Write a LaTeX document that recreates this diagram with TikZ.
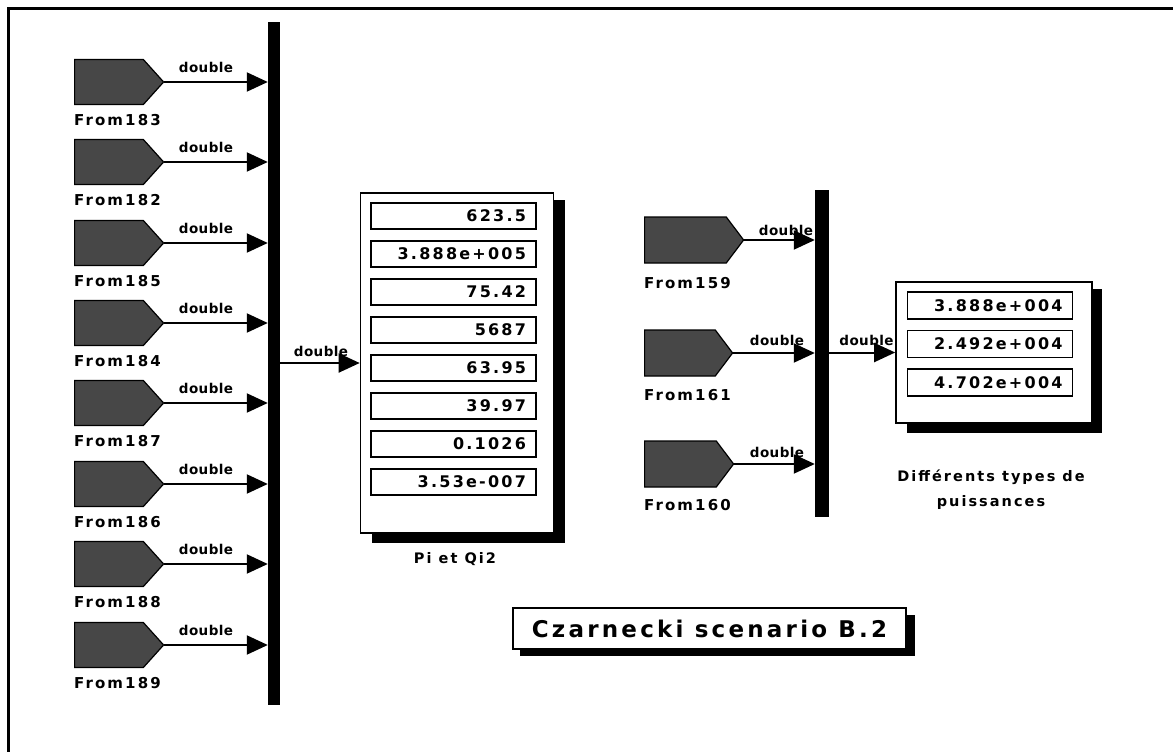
\documentclass[tikz,border=0pt]{standalone}
\usepackage{fontspec}
\setmainfont{DejaVu Sans}
\newfontfamily\lblfont[LetterSpace=3]{DejaVu Sans}
\newfontfamily\spfont[LetterSpace=14]{DejaVu Sans}
\usetikzlibrary{arrows.meta,shapes.symbols}
\tikzset{
  fromblk/.style={signal, signal to=east, draw=black, line width=1.2pt, fill=black!72,
    minimum height=45pt, inner sep=0pt, anchor=west, signal pointer angle=96},
  fromblkr/.style={fromblk, minimum height=46pt, signal pointer angle=106},
  sig/.style={line width=2pt, -{Triangle[length=21pt,width=19pt]}},
  dbl/.style={font=\lblfont\bfseries\fontsize{13.5}{14}\selectfont, inner sep=0pt},
  fromlbl/.style={font=\spfont\bfseries\fontsize{15}{16}\selectfont, anchor=west, inner sep=0pt},
  bus/.style={fill=black, draw=none, inner sep=0pt},
  dispbox/.style={draw=black, line width=1.6pt, fill=white, inner sep=0pt},
  field/.style={draw=black, line width=1.6pt, minimum height=26pt, inner xsep=10pt, inner ysep=0pt,
    text width=145pt, align=right, font=\spfont\bfseries\fontsize{16}{17}\selectfont},
  caption/.style={font=\spfont\bfseries\fontsize{14.5}{25}\selectfont, align=center, inner sep=0pt},
  shadowbox/.style={fill=black, draw=none}
}
\begin{document}
\begin{tikzpicture}[x=1pt,y=-1pt]
\useasboundingbox (0,0) rectangle (1173,752);
\fill[white] (0,0) rectangle (1173,752);
% outer frame
\draw[line width=3pt] (8,752) -- (8,8.5) -- (1173,8.5);

% buses
\node[bus, minimum width=12pt, minimum height=683pt] (bus1) at (274,363.5) {};
\node[bus, minimum width=14pt, minimum height=327pt] (bus2) at (822,353.5) {};

% left From blocks
\foreach \i/\c/\lab in {1/82/From183, 2/162/From182, 3/243/From185, 4/323/From184,
                        5/403/From187, 6/484/From186, 7/564/From188, 8/645/From189} {
  \node[fromblk, minimum width=89pt] (f\i) at (74,\c) {};
  \node[fromlbl] (fl\i) at (74,\c+38.5) {\lab};
  \node[dbl] (fd\i) at (206,\c-14.5) {double};
  \draw[sig] (f\i.east) -- (f\i.east -| bus1.west);
}

% display 1
\fill[shadowbox] (372,200) rectangle (565,543);
\node[dispbox, minimum width=193pt, minimum height=340pt] (disp1) at (457,363) {};
\foreach \i/\v in {1/623.5, 2/3.888e+005, 3/75.42, 4/5687, 5/63.95, 6/39.97, 7/0.1026, 8/3.53e-007} {
  \node[field] (p\i) at (453.5,{216+38*(\i-1)}) {\v};
}
\node[caption] (cap1) at (455,559) {Pi et Qi2};
\node[dbl] (bd1) at (321,351) {double};
\draw[sig] (bus1.east |- disp1.west) -- (disp1.west);

% right From blocks
\node[fromblkr, minimum width=99pt] (g1) at (644,240) {};
\node[fromlbl] (gl1) at (644,283) {From159};
\node[fromblkr, minimum width=88pt] (g2) at (644,353) {};
\node[fromlbl] (gl2) at (644,395) {From161};
\node[fromblkr, minimum width=89pt] (g3) at (644,464) {};
\node[fromlbl] (gl3) at (644,505) {From160};
\node[dbl] (gd1) at (786,230.5) {double};
\node[dbl] (gd2) at (777,340.5) {double};
\node[dbl] (gd3) at (777,452) {double};
\draw[sig] (g1.east) -- (g1.east -| bus2.west);
\draw[sig] (g2.east) -- (g2.east -| bus2.west);
\draw[sig] (g3.east) -- (g3.east -| bus2.west);
% redraw bus2 over label ends
\fill (bus2.north west) rectangle (bus2.south east);

% display 2
\fill[shadowbox] (907,289) rectangle (1102,433);
\node[dispbox, minimum width=196pt, minimum height=141pt] (disp2) at (994,352.5) {};
\node[field, minimum height=27pt] (q1) at (990,305.5) {3.888e+004};
\node[field, minimum height=27pt] (q2) at (990,344) {2.492e+004};
\node[field, minimum height=27pt] (q3) at (990,382.5) {4.702e+004};
\node[dbl] (bd2) at (866.5,340.5) {double};
\draw[sig] (bus2.east |- disp2.west) -- (disp2.west);
\node[caption] (cap2) at (991,489.5) {Différents types de\\puissances};

% title
\fill[shadowbox] (520,615) rectangle (915,656);
\node[dispbox, line width=2pt, minimum width=393pt, minimum height=41pt,
  font=\spfont\bfseries\fontsize{23}{24}\selectfont] (title) at (709.5,628.5) {Czarnecki scenario B.2};
\end{tikzpicture}
\end{document}
